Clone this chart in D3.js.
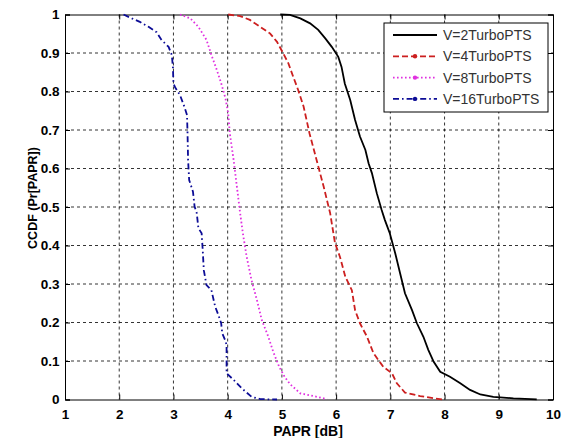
<!DOCTYPE html>
<html>
<head>
<meta charset="utf-8">
<script src="https://cdn.jsdelivr.net/npm/d3@7"></script>
<style>
  body { margin: 0; background: #fff; }
  svg { font-family: "Liberation Sans", Arial, sans-serif; }
</style>
</head>
<body>
<div id="plot"></div>
<script>
const FRAME_WIDTH = 568;
const FRAME_HEIGHT = 438;
const MARGINS = {left: 65, right: 15, top: 14.5, bottom: 38.5};

const VIS_WIDTH = FRAME_WIDTH - MARGINS.left - MARGINS.right;
const VIS_HEIGHT = FRAME_HEIGHT - MARGINS.top - MARGINS.bottom;

const X_TICKS = [1, 2, 3, 4, 5, 6, 7, 8, 9, 10];
const Y_TICKS = [0, 0.1, 0.2, 0.3, 0.4, 0.5, 0.6, 0.7, 0.8, 0.9, 1];

const SERIES_NAMES = ["V=2TurboPTS", "V=4TurboPTS", "V=8TurboPTS", "V=16TurboPTS"];

// PAPR (dB) / CCDF
const papr2 = [4.97, 5.15, 5.34, 5.52, 5.67, 5.80, 5.92, 6.04, 6.10, 6.16, 6.26, 6.35, 6.44, 6.54, 6.60, 6.66, 6.75, 6.84,
               6.90, 6.99, 7.09, 7.18, 7.27, 7.40, 7.49, 7.61, 7.70, 7.80, 7.92, 8.10, 8.29, 8.47, 8.66, 8.90, 9.27, 9.70];
const ccdf2 = [1, 0.999, 0.990, 0.977, 0.960, 0.938, 0.916, 0.890, 0.864, 0.821, 0.778, 0.726, 0.683, 0.648, 0.613, 0.588, 0.536, 0.492,
               0.466, 0.432, 0.380, 0.328, 0.276, 0.232, 0.198, 0.163, 0.129, 0.098, 0.072, 0.059, 0.042, 0.025, 0.013, 0.007, 0.003, 0.0005];

const papr4 = [4.01, 4.23, 4.41, 4.60, 4.78, 4.91, 5.01, 5.12, 5.21, 5.30, 5.40, 5.51, 5.64, 5.77, 5.89, 5.98, 6.07, 6.17,
               6.29, 6.35, 6.44, 6.57, 6.69, 6.87, 7.03, 7.12, 7.27, 7.55, 7.80, 7.98];
const ccdf4 = [1, 0.996, 0.986, 0.968, 0.951, 0.929, 0.903, 0.873, 0.838, 0.804, 0.761, 0.691, 0.622, 0.553, 0.484, 0.406, 0.371, 0.319,
               0.284, 0.232, 0.198, 0.163, 0.120, 0.085, 0.068, 0.042, 0.018, 0.009, 0.003, 0];

const papr8 = [3.12, 3.31, 3.46, 3.61, 3.70, 3.80, 3.89, 3.96, 4.01, 4.04, 4.11, 4.17, 4.23, 4.28, 4.35, 4.44, 4.54, 4.63,
               4.75, 4.84, 4.95, 5.05, 5.15, 5.34, 5.58, 5.77, 5.83];
const ccdf8 = [1, 0.990, 0.968, 0.934, 0.895, 0.856, 0.817, 0.782, 0.743, 0.691, 0.622, 0.553, 0.484, 0.432, 0.371, 0.310, 0.258, 0.206,
               0.163, 0.124, 0.085, 0.059, 0.040, 0.016, 0.009, 0.003, 0];

const papr16 = [2.08, 2.23, 2.38, 2.54, 2.69, 2.78, 2.91, 2.97, 2.99, 3.00, 3.03, 3.12, 3.20, 3.25, 3.26, 3.27, 3.29, 3.36, 3.39,
                3.43, 3.46, 3.52, 3.54, 3.56, 3.61, 3.70, 3.77, 3.83, 3.88, 3.90, 3.95, 3.98, 3.98, 4.11, 4.26, 4.44, 4.60, 4.91];
const ccdf16 = [1, 0.990, 0.981, 0.968, 0.954, 0.934, 0.916, 0.895, 0.864, 0.821, 0.811, 0.791, 0.761, 0.739, 0.691, 0.622, 0.570, 0.540, 0.501,
                0.484, 0.445, 0.432, 0.388, 0.336, 0.297, 0.284, 0.241, 0.219, 0.198, 0.172, 0.155, 0.142, 0.068, 0.051, 0.029, 0.007, 0.001, 0];

const STYLES = [
  {color: "#000000", dash: null, marker: false},
  {color: "#cc1f1f", dash: "6,3", marker: true},
  {color: "#e030e0", dash: "1.6,2.4", marker: true},
  {color: "#0c0c96", dash: "6,3,1.6,3", marker: true}
];

const series = [
  {name: SERIES_NAMES[0], x: papr2, y: ccdf2},
  {name: SERIES_NAMES[1], x: papr4, y: ccdf4},
  {name: SERIES_NAMES[2], x: papr8, y: ccdf8},
  {name: SERIES_NAMES[3], x: papr16, y: ccdf16}
];

const X_SCALE = d3.scaleLinear().domain([1, 10]).range([0, VIS_WIDTH]);
const Y_SCALE = d3.scaleLinear().domain([0, 1]).range([VIS_HEIGHT, 0]);

const FRAME = d3.select("#plot")
  .append("svg")
    .attr("width", FRAME_WIDTH)
    .attr("height", FRAME_HEIGHT);

const G = FRAME.append("g")
  .attr("transform", "translate(" + MARGINS.left + "," + MARGINS.top + ")");

// grid
G.append("g").selectAll("line")
  .data(X_TICKS.slice(1, -1))
  .enter().append("line")
    .attr("x1", d => X_SCALE(d)).attr("x2", d => X_SCALE(d))
    .attr("y1", 0).attr("y2", VIS_HEIGHT)
    .attr("stroke", "#000").attr("stroke-width", 0.8)
    .attr("stroke-dasharray", "3,3");

G.append("g").selectAll("line")
  .data(Y_TICKS.slice(1, -1))
  .enter().append("line")
    .attr("y1", d => Y_SCALE(d)).attr("y2", d => Y_SCALE(d))
    .attr("x1", 0).attr("x2", VIS_WIDTH)
    .attr("stroke", "#000").attr("stroke-width", 0.8)
    .attr("stroke-dasharray", "3,3");

// axes
G.append("g")
  .attr("transform", "translate(0," + VIS_HEIGHT + ")")
  .call(d3.axisBottom(X_SCALE).tickValues(X_TICKS).tickSize(-5).tickPadding(9.5).tickFormat(d3.format("d")));

G.append("g")
  .call(d3.axisLeft(Y_SCALE).tickValues(Y_TICKS).tickSize(-5).tickPadding(5.5).tickFormat(d => d === 0 || d === 1 ? d : d3.format(".1f")(d)));

G.append("g")
  .call(d3.axisTop(X_SCALE).tickValues(X_TICKS).tickSize(-5).tickFormat(""));
G.append("g")
  .attr("transform", "translate(" + VIS_WIDTH + ",0)")
  .call(d3.axisRight(Y_SCALE).tickValues(Y_TICKS).tickSize(-5).tickFormat(""));

G.selectAll(".domain").attr("stroke", "#000").attr("stroke-width", 1);
G.selectAll(".tick line").attr("stroke", "#000");
G.selectAll(".tick text")
  .attr("font-size", "13.5px")
  .attr("font-weight", "bold")
  .attr("fill", "#000");

// curves
const line = d3.line()
  .x(d => X_SCALE(d[0]))
  .y(d => Y_SCALE(d[1]));

series.forEach((s, i) => {
  G.append("path")
    .datum(d3.zip(s.x, s.y))
    .attr("d", line)
    .attr("fill", "none")
    .attr("stroke", STYLES[i].color)
    .attr("stroke-width", 1.8)
    .attr("stroke-dasharray", STYLES[i].dash);
});

// axis labels
FRAME.append("text")
  .attr("x", MARGINS.left + VIS_WIDTH / 2 - 1)
  .attr("y", 436)
  .attr("text-anchor", "middle")
  .attr("font-size", "14px")
  .attr("font-weight", "bold")
  .text("PAPR [dB]");

FRAME.append("text")
  .attr("transform", "translate(37,198) rotate(-90)")
  .attr("text-anchor", "middle")
  .attr("font-size", "12.5px")
  .attr("font-weight", "bold")
  .text("CCDF (Pr[PAPR])");

// legend
const LEGEND = FRAME.append("g").attr("transform", "translate(384,23)");

LEGEND.append("rect")
  .attr("width", 164).attr("height", 89)
  .attr("fill", "#fff").attr("stroke", "#000").attr("stroke-width", 1);

series.forEach((s, i) => {
  const row = LEGEND.append("g").attr("transform", "translate(0," + (12 + i * 21.3) + ")");
  row.append("line")
    .attr("x1", 9).attr("x2", 53)
    .attr("stroke", STYLES[i].color)
    .attr("stroke-width", 1.8)
    .attr("stroke-dasharray", STYLES[i].dash);
  if (STYLES[i].marker) {
    row.append("circle")
      .attr("cx", 31).attr("r", 2.2)
      .attr("fill", STYLES[i].color);
  }
  row.append("text")
    .attr("x", 59).attr("y", 5)
    .attr("font-size", "14px")
    .attr("fill", "#333")
    .text(s.name);
});
</script>
</body>
</html>
